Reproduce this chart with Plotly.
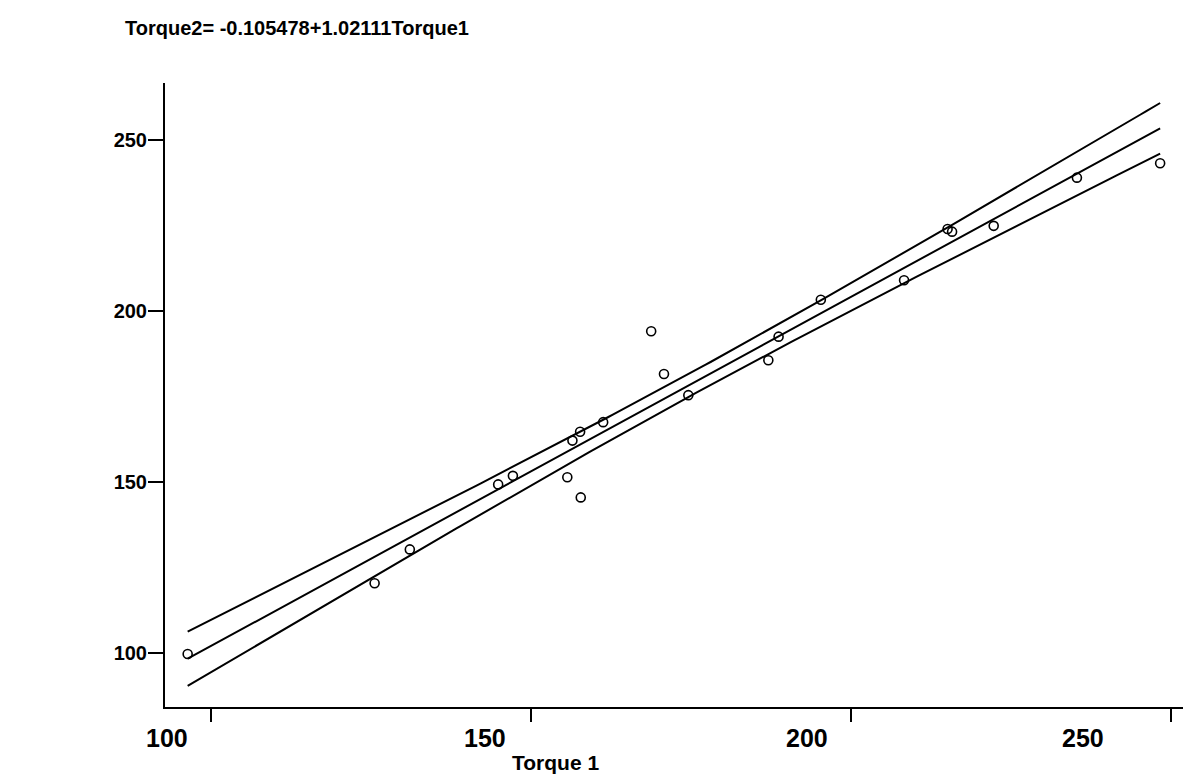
import numpy as np
import plotly.graph_objects as go

# ---- data ----
torque1 = [96.4, 125.6, 131.1, 144.9, 147.2, 155.7, 156.5, 157.7, 157.8, 161.3, 168.8,
           170.8, 174.6, 187.1, 188.7, 195.3, 208.3, 215.1, 215.8, 222.3, 235.3, 248.3]
torque2 = [99.7, 120.4, 130.3, 149.3, 151.8, 151.4, 162.1, 164.7, 145.5, 167.5, 194.1,
           181.6, 175.4, 185.6, 192.5, 203.3, 209.0, 224.0, 223.2, 224.9, 239.0, 243.2]
intercept = -0.105478
slope = 1.02111
x_ticks = [100, 150, 200, 250]
x_tick_labels = ["100", "150", "200", "250"]
y_ticks = [100, 150, 200, 250]

# ---- fitted line and 95% confidence band of the mean ----
x = np.array(torque1)
y = np.array(torque2)
n = len(x)
resid = y - (intercept + slope * x)
s = np.sqrt(np.sum(resid ** 2) / (n - 2))
t_crit = 2.086  # t(0.975, 20)
xbar = x.mean()
sxx = np.sum((x - xbar) ** 2)
xg = np.linspace(x.min(), x.max(), 200)
yg = intercept + slope * xg
hw = t_crit * s * np.sqrt(1.0 / n + (xg - xbar) ** 2 / sxx)

FONT = "Liberation Sans, Arial, sans-serif"
line_style = dict(color="black", width=2)

fig = go.Figure()
fig.add_trace(go.Scatter(x=xg, y=yg + hw, mode="lines", line=line_style, hoverinfo="skip"))
fig.add_trace(go.Scatter(x=xg, y=yg, mode="lines", line=line_style, hoverinfo="skip"))
fig.add_trace(go.Scatter(x=xg, y=yg - hw, mode="lines", line=line_style, hoverinfo="skip"))
fig.add_trace(go.Scatter(
    x=torque1, y=torque2, mode="markers",
    marker=dict(symbol="circle-open", size=9, color="black", line=dict(width=1.6, color="black")),
))

# tick labels (shifted left of the tick marks, as in the reference)
label_pos = [93.2, 142.8, 193.1, 236.3]
annotations = []
for xp, txt in zip(label_pos, x_tick_labels):
    annotations.append(dict(
        x=xp, y=-0.0497, xref="x", yref="paper", text=txt, showarrow=False,
        xanchor="center", yanchor="middle",
        font=dict(family=FONT, size=25, color="black", weight="bold"),
    ))
annotations.append(dict(
    x=153.8, y=-0.0897, xref="x", yref="paper", text="Torque 1", showarrow=False,
    xanchor="center", yanchor="middle",
    font=dict(family=FONT, size=21, color="black", weight="bold"),
))

fig.update_layout(
    width=1183, height=778, autosize=False,
    margin=dict(l=165, r=0, t=83, b=71),
    paper_bgcolor="white", plot_bgcolor="white",
    showlegend=False,
    title=dict(
        text="Torque2= -0.105478+1.02111Torque1",
        x=125 / 1183, xanchor="left", xref="container",
        y=1 - 28 / 778, yanchor="middle", yref="container",
        font=dict(family=FONT, size=20, color="black", weight="bold"),
    ),
    annotations=annotations,
    xaxis=dict(
        range=[92.86, 251.87], tickvals=x_ticks, showticklabels=False,
        ticks="outside", ticklen=13, tickwidth=2, tickcolor="black",
        showline=True, linecolor="black", linewidth=2, mirror=False,
        showgrid=False, zeroline=False,
    ),
    yaxis=dict(
        range=[84.21, 266.67], tickvals=y_ticks,
        ticks="outside", ticklen=15, tickwidth=2, tickcolor="black",
        showline=True, linecolor="black", linewidth=2, mirror=False,
        showgrid=False, zeroline=False,
        ticklabelstandoff=-3,
        tickfont=dict(family=FONT, size=20, color="black", weight="bold"),
    ),
)

fig.write_html("out.html")
